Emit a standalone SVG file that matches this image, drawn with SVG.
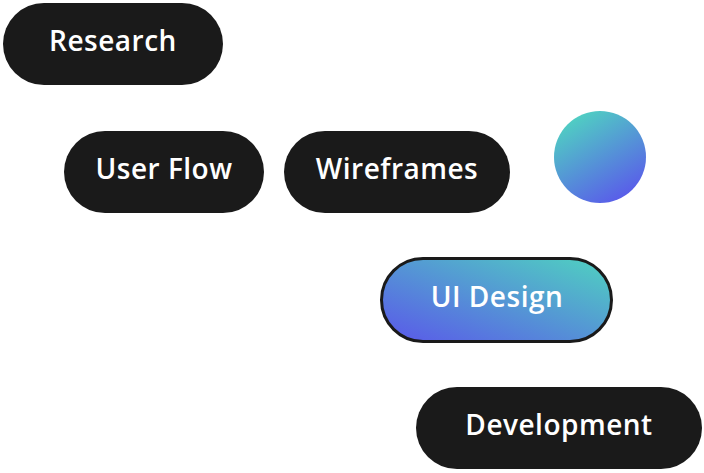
<svg xmlns="http://www.w3.org/2000/svg" width="704" height="473" viewBox="0 0 704 473">
<defs>
<linearGradient id="gBtn" x1="0" y1="1" x2="1" y2="0">
<stop offset="0" stop-color="#5a57ea"/>
<stop offset="1" stop-color="#4fd3c0"/>
</linearGradient>
<linearGradient id="gCirc" x1="0.2" y1="0" x2="0.8" y2="1">
<stop offset="0" stop-color="#4fd6c0"/>
<stop offset="1" stop-color="#5a55ec"/>
</linearGradient>
<style>
.pill{fill:#1a1a1a}
.lbl{fill:#ffffff;font-family:"Open Sans","Liberation Sans",sans-serif;font-size:28px;font-weight:600;letter-spacing:0.5px;text-anchor:middle}
</style>
</defs>
<rect width="704" height="473" fill="#ffffff"/>
<g id="connectors"></g>
<g id="research"><rect class="pill" x="3" y="3" width="220" height="82" rx="41"/><text class="lbl" x="113" y="51">Research</text></g>
<g id="userflow"><rect class="pill" x="64" y="131" width="200" height="82" rx="41"/><text class="lbl" x="164" y="179">User Flow</text></g>
<g id="wireframes"><rect class="pill" x="284" y="131" width="226" height="82" rx="41"/><text class="lbl" x="397" y="179">Wireframes</text></g>
<g id="circle"><circle cx="600" cy="157" r="46" fill="url(#gCirc)"/></g>
<g id="uidesign"><rect x="381.5" y="258.5" width="230" height="83" rx="41.5" fill="url(#gBtn)" stroke="#1a1a1a" stroke-width="3"/><text class="lbl" x="497" y="307">UI Design</text></g>
<g id="development"><rect class="pill" x="416" y="387" width="286" height="82" rx="41"/><text class="lbl" x="559" y="435">Development</text></g>
</svg>
